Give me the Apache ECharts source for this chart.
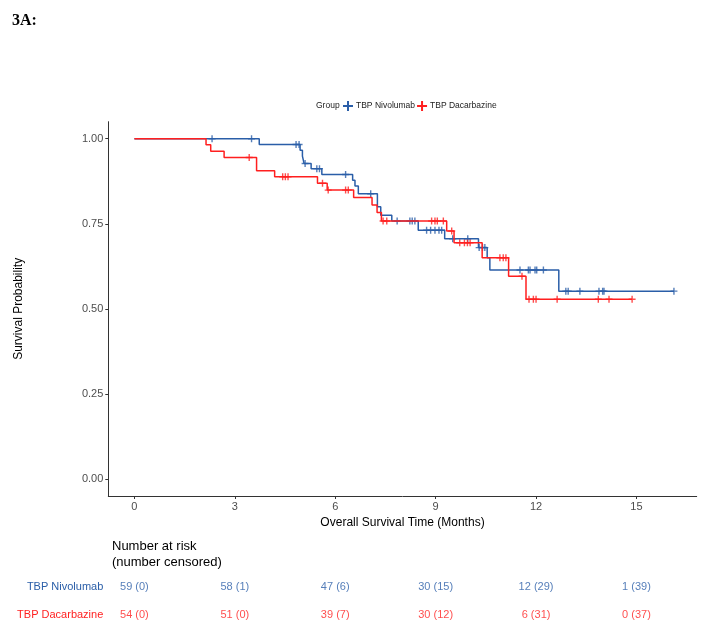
<!DOCTYPE html>
<html><head><meta charset="utf-8">
<script src="https://cdn.jsdelivr.net/npm/echarts@6/dist/echarts.min.js"></script>
<style>html,body{margin:0;padding:0;background:#fff}#c{width:704px;height:629px}</style>
</head><body><div id="c"></div>
<script>
const groups = ['TBP Nivolumab', 'TBP Dacarbazine'];
const groupColors = ['#2a5ea8', '#ff1f1f'];

const nivoTime = [0, 3.73, 4.95, 5.02, 5.07, 5.28, 5.60, 6.52, 6.59, 6.69, 7.26, 7.36, 7.69, 8.48, 9.27, 10.28, 10.54, 10.62, 12.68, 16.12];
const nivoSurv = [1, 0.983, 0.966, 0.949, 0.927, 0.912, 0.895, 0.878, 0.861, 0.838, 0.800, 0.775, 0.758, 0.731, 0.706, 0.680, 0.650, 0.614, 0.552, 0.552];
const nivoCensorTime = [2.32, 3.50, 4.83, 4.92, 5.10, 5.45, 5.53, 6.31, 7.06, 7.85, 8.23, 8.30, 8.38, 8.73, 8.85, 8.98, 9.10, 9.18, 9.51, 9.96, 10.30, 10.40, 10.47, 11.52, 11.77, 11.82, 11.97, 12.02, 12.22, 12.89, 12.96, 13.31, 13.88, 13.99, 14.03, 16.12];
const nivoCensorSurv = [1, 1, 0.983, 0.983, 0.927, 0.912, 0.912, 0.895, 0.838, 0.758, 0.758, 0.758, 0.758, 0.731, 0.731, 0.731, 0.731, 0.731, 0.706, 0.706, 0.680, 0.680, 0.680, 0.614, 0.614, 0.614, 0.614, 0.614, 0.614, 0.552, 0.552, 0.552, 0.552, 0.552, 0.552, 0.552];

const dacaTime = [0, 2.14, 2.28, 2.68, 3.65, 4.19, 5.47, 5.76, 6.55, 7.10, 7.25, 7.38, 9.33, 9.55, 10.39, 11.18, 11.70, 14.87];
const dacaSurv = [1, 0.982, 0.963, 0.945, 0.906, 0.888, 0.869, 0.849, 0.827, 0.805, 0.783, 0.758, 0.729, 0.694, 0.650, 0.596, 0.528, 0.528];
const dacaCensorTime = [3.43, 4.43, 4.51, 4.59, 5.62, 5.79, 6.31, 6.39, 7.43, 7.54, 8.88, 8.98, 9.05, 9.23, 9.48, 9.72, 9.86, 9.95, 10.03, 10.92, 11.02, 11.10, 11.58, 11.79, 11.92, 12.00, 12.63, 13.86, 14.18, 14.87];
const dacaCensorSurv = [0.945, 0.888, 0.888, 0.888, 0.869, 0.849, 0.849, 0.849, 0.758, 0.758, 0.758, 0.758, 0.758, 0.758, 0.729, 0.694, 0.694, 0.694, 0.694, 0.650, 0.650, 0.650, 0.596, 0.528, 0.528, 0.528, 0.528, 0.528, 0.528, 0.528];

const xTicks = [0, 3, 6, 9, 12, 15];
const yTicks = [0, 0.25, 0.5, 0.75, 1];
const riskTimes = [0, 3, 6, 9, 12, 15];
const nivoAtRisk = [59, 58, 47, 30, 12, 1];
const nivoCensored = [0, 1, 6, 15, 29, 39];
const dacaAtRisk = [54, 51, 39, 30, 6, 0];
const dacaCensored = [0, 0, 7, 12, 31, 37];

const plusIcon = 'path://M0,4H10V6H0Z M4,0H6V10H4Z';
const XMIN = -0.78, XMAX = 16.8;

function curve(name, times, surv, color) {
  return {
    name: name, type: 'line', step: 'end', xAxisIndex: 0, yAxisIndex: 0,
    data: times.map((t, i) => [t, surv[i]]),
    symbol: 'none', lineStyle: { color: color, width: 1.5 }, itemStyle: { color: color },
    silent: true
  };
}
function censors(name, times, surv, color) {
  return {
    name: name, type: 'scatter', xAxisIndex: 0, yAxisIndex: 0,
    data: times.map((t, i) => [t, surv[i]]),
    symbol: plusIcon, symbolSize: 7, itemStyle: { color: color }, silent: true
  };
}
function riskRow(group, atRisk, cens, color) {
  return {
    type: 'scatter', xAxisIndex: 1, yAxisIndex: 1,
    data: riskTimes.map((t, i) => [t, group, atRisk[i] + ' (' + cens[i] + ')']),
    symbol: 'circle', symbolSize: 1, itemStyle: { color: 'rgba(0,0,0,0)' },
    label: { show: true, position: 'inside', formatter: p => p.value[2], color: color, fontSize: 11, fontFamily: 'Liberation Sans, Arial, sans-serif' },
    silent: true
  };
}

const chart = echarts.init(document.getElementById('c'));
chart.setOption({
  animation: false,
  backgroundColor: '#fff',
  textStyle: { fontFamily: 'Liberation Sans, Arial, sans-serif' },
  title: [
    { text: '3A:', left: 7, top: 8, textStyle: { fontFamily: 'Liberation Serif, Times New Roman, serif', fontWeight: 'bold', fontSize: 16, color: '#000' } },
    { text: 'Group', left: 311, top: 96, textStyle: { fontSize: 8.5, fontWeight: 'normal', color: '#222' } },
    { text: 'Number at risk\n(number censored)', left: 107, top: 533, textStyle: { fontSize: 13, fontWeight: 'normal', color: '#000', lineHeight: 16 } }
  ],
  legend: {
    left: 338, top: 96, itemGap: 2, itemWidth: 12, itemHeight: 10,
    data: groups.map((g, i) => ({ name: g, icon: plusIcon, itemStyle: { color: groupColors[i] } })),
    textStyle: { fontSize: 8.5, color: '#222', padding: [0, 0, 0, -3] }
  },
  grid: [
    { left: 108.3, right: 7.3, top: 121.7, bottom: 133, containLabel: false },
    { left: 108.3, right: 7.3, top: 572.5, height: 58, containLabel: false }
  ],
  xAxis: [
    {
      type: 'value', gridIndex: 0, min: XMIN, max: XMAX,
      name: 'Overall Survival Time (Months)', nameLocation: 'middle', nameGap: 18,
      nameTextStyle: { fontSize: 12, color: '#000' },
      axisLine: { show: true, onZero: false, lineStyle: { color: '#333', width: 1 } },
      axisTick: { show: true, length: 3, lineStyle: { color: '#333' }, customValues: xTicks },
      axisLabel: { fontSize: 11, color: '#4d4d4d', margin: 5, customValues: xTicks },
      splitLine: { show: false }
    },
    { type: 'value', gridIndex: 1, min: XMIN, max: XMAX, show: false }
  ],
  yAxis: [
    {
      type: 'value', gridIndex: 0, min: -0.05, max: 1.05,
      name: 'Survival Probability', nameLocation: 'middle', nameGap: 84, nameRotate: 90,
      nameTextStyle: { fontSize: 12, color: '#000' },
      axisLine: { show: true, onZero: false, lineStyle: { color: '#333', width: 1 } },
      axisTick: { show: true, length: 3, lineStyle: { color: '#333' }, customValues: yTicks },
      axisLabel: { fontSize: 11, color: '#4d4d4d', margin: 5, customValues: yTicks, formatter: v => v.toFixed(2) },
      splitLine: { show: false }
    },
    {
      type: 'category', gridIndex: 1, data: groups, inverse: true,
      axisLine: { show: false }, axisTick: { show: false }, splitLine: { show: false },
      axisLabel: { fontSize: 11, margin: 5, color: (v) => groupColors[groups.indexOf(v)] }
    }
  ],
  series: [
    curve(groups[0], nivoTime, nivoSurv, groupColors[0]),
    censors(groups[0], nivoCensorTime, nivoCensorSurv, groupColors[0]),
    curve(groups[1], dacaTime, dacaSurv, groupColors[1]),
    censors(groups[1], dacaCensorTime, dacaCensorSurv, groupColors[1]),
    riskRow(groups[0], nivoAtRisk, nivoCensored, groupColors[0]),
    riskRow(groups[1], dacaAtRisk, dacaCensored, groupColors[1])
  ]
});
</script>
</body></html>
